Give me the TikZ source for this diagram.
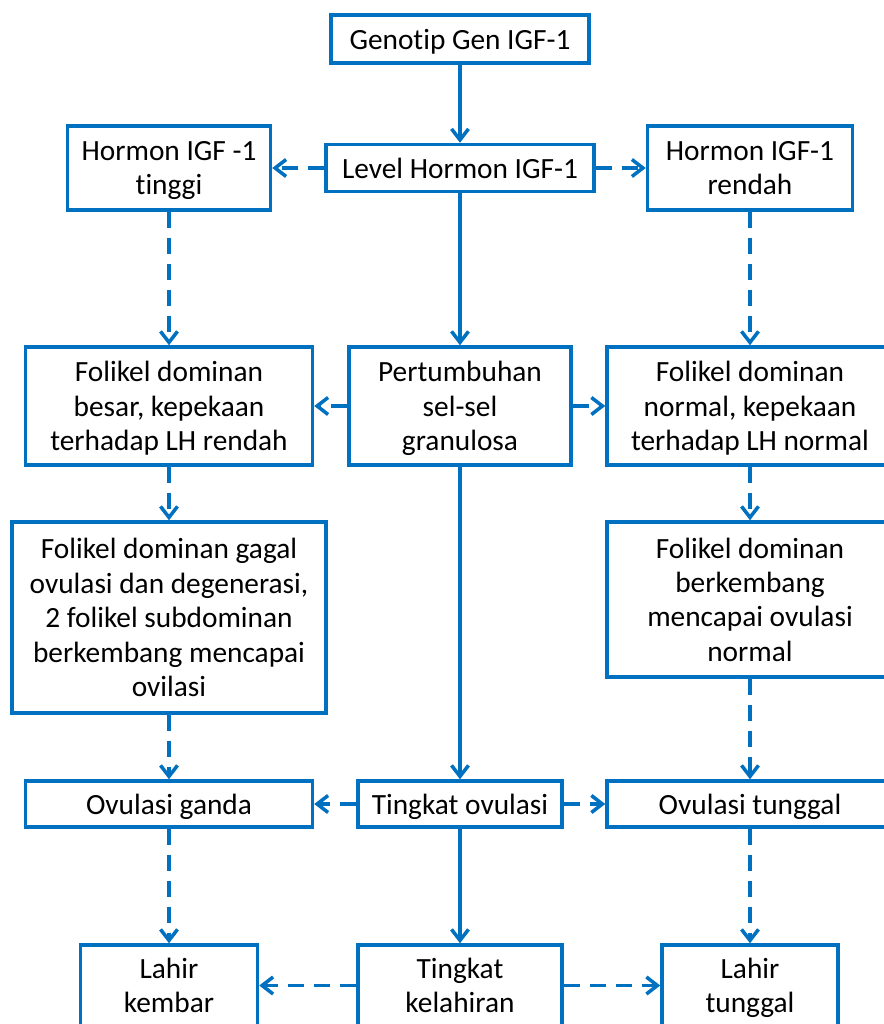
\documentclass[tikz,border=0pt]{standalone}
\usepackage{fontspec}
\setmainfont{Carlito}[Ligatures=NoCommon]
\usetikzlibrary{arrows.meta}
\definecolor{igfblue}{RGB}{0,112,192}
\begin{document}
\begin{tikzpicture}[x=0.02cm, y=-0.02cm,
    every node/.style={rectangle,draw=igfblue,line width=2pt,fill=white,align=center,inner sep=0pt,
      font=\fontsize{16.7}{19.6}\selectfont,execute at begin node=\rule{0pt}{18.3pt},execute at end node=\strut},
    stacked/.style={text depth=0pt},
    solidarrow/.style={draw=igfblue,line width=2pt,-{Straight Barb[length=0.22cm,width=0.34cm]}},
    dasharrow/.style={solidarrow,dash pattern=on 0.32cm off 0.2cm}]
            \useasboundingbox (0,0) rectangle (883,1024);
            % Top row
            \node[minimum width=5.16cm,minimum height=0.96cm] (genotip) at (460,39) {Genotip Gen IGF-1};
            \node[minimum width=5.36cm,minimum height=0.94cm] (level) at (460,168) {Level Hormon IGF-1};
            \node[stacked,minimum width=4.06cm,minimum height=1.68cm] (tinggi) at (169,168) {Hormon IGF -1\\tinggi};
            \node[stacked,minimum width=4.10cm,minimum height=1.68cm] (rendah) at (750,168) {Hormon IGF-1\\rendah};
            % Follicles
            \node[stacked,minimum width=5.74cm,minimum height=2.36cm] (besar) at (169,406) {Folikel dominan\\besar, kepekaan\\terhadap LH rendah};
            \node[stacked,minimum width=4.44cm,minimum height=2.36cm] (granulosa) at (460,406) {Pertumbuhan\\sel-sel\\granulosa};
            \node[stacked,minimum width=5.72cm,minimum height=2.36cm] (normal) at (750,406) {Folikel dominan\\normal, kepekaan\\terhadap LH normal};
            \node[stacked,minimum width=6.28cm,minimum height=3.82cm] (gagal) at (169,617.5) {Folikel dominan gagal\\ovulasi dan degenerasi,\\2 folikel subdominan\\berkembang mencapai\\ovilasi};
            \node[stacked,minimum width=5.72cm,minimum height=3.10cm] (berkembang) at (750,599.5) {Folikel dominan\\berkembang\\mencapai ovulasi\\normal};
            % Ovulation
            \node[minimum width=5.74cm,minimum height=0.92cm] (ganda) at (169,804) {Ovulasi ganda};
            \node[minimum width=4.08cm,minimum height=0.92cm] (ovulasi) at (460,804) {Tingkat ovulasi};
            \node[minimum width=5.72cm,minimum height=0.92cm] (tunggal) at (750,804) {Ovulasi tunggal};
            % Birth
            \node[stacked,minimum width=3.54cm,minimum height=1.62cm] (kembar) at (169,985.5) {Lahir\\kembar};
            \node[stacked,minimum width=4.08cm,minimum height=1.62cm] (kelahiran) at (460,985.5) {Tingkat\\kelahiran};
            \node[stacked,minimum width=3.52cm,minimum height=1.62cm] (lahirtunggal) at (750,985.5) {Lahir\\tunggal};
            % Main chain
            \draw[solidarrow] (genotip) -- (level);
            \draw[solidarrow] (level) -- (granulosa);
            \draw[solidarrow] (granulosa) -- (ovulasi);
            \draw[solidarrow] (ovulasi) -- (kelahiran);
            % Side branches
            \draw[dasharrow] (level) -- (tinggi);
            \draw[dasharrow] (level) -- (rendah);
            \draw[dasharrow] (granulosa) -- (besar);
            \draw[dasharrow] (granulosa) -- (normal);
            \draw[dasharrow] (ovulasi) -- (ganda);
            \draw[dasharrow] (ovulasi) -- (tunggal);
            \draw[dasharrow] (kelahiran) -- (kembar);
            \draw[dasharrow] (kelahiran) -- (lahirtunggal);
            % Left column
            \draw[dasharrow] (tinggi) -- (besar);
            \draw[dasharrow] (besar) -- (gagal);
            \draw[dasharrow] (gagal) -- (ganda);
            \draw[dasharrow] (ganda) -- (kembar);
            % Right column
            \draw[dasharrow] (rendah) -- (normal);
            \draw[dasharrow] (normal) -- (berkembang);
            \draw[dasharrow] (berkembang) -- (tunggal);
            \draw[dasharrow] (tunggal) -- (lahirtunggal);
          \end{tikzpicture}
\end{document}
